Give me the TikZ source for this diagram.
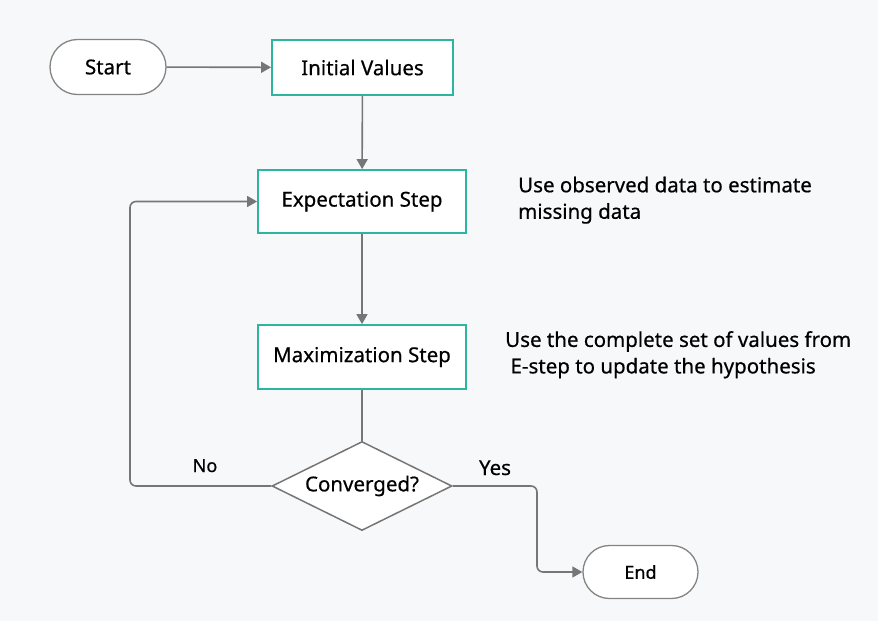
\documentclass[tikz,border=0pt]{standalone}
\usepackage{fontspec}
\setmainfont{Noto Sans}[FakeBold=0.5]
\usetikzlibrary{arrows.meta,shapes.geometric,shapes.misc}
\definecolor{teal}{HTML}{2DB59F}
\definecolor{conn}{HTML}{767676}
\definecolor{bg}{HTML}{F7F8F9}
\begin{document}
\begin{tikzpicture}[x=1pt,y=-1pt,
  font=\fontsize{20.5}{26.5}\selectfont,
  small/.style={font=\fontsize{18}{22}\selectfont},
  terminal/.style={rounded rectangle, draw=conn!90, line width=1.3pt, fill=white,
    minimum width=116pt, minimum height=55pt, inner sep=0pt},
  process/.style={rectangle, draw=teal, line width=1.8pt, fill=white,
    minimum height=60pt, inner sep=0pt},
  decision/.style={diamond, draw=conn, line width=1.5pt, fill=white, aspect=2,
    minimum width=180pt, minimum height=89pt, inner sep=0pt},
  link/.style={draw=conn, line width=1.6pt, rounded corners=6pt,
    -{Triangle[length=10pt,width=11pt]}},
  plain/.style={draw=conn, line width=1.6pt, rounded corners=6pt},
  note/.style={align=left, anchor=north west, inner sep=0pt}
]
\useasboundingbox[fill=bg] (0,0) rectangle (878,621);

\node[terminal] (start) at (108,67) {Start};
\node[process, minimum width=181pt, minimum height=55pt] (init) at (362.5,67.5) {Initial Values};
\node[process, minimum width=208pt, minimum height=63pt] (estep) at (362,201.5) {Expectation Step};
\node[process, minimum width=208pt, minimum height=64pt] (mstep) at (362,357) {Maximization Step};
\node[decision] (conv) at (362,486) {Converged?};
\node[terminal, small, minimum width=115pt, minimum height=53pt] (end) at (640.5,572) {End};

\coordinate (noturn) at (130,486);
\coordinate (yesturn) at (537,486);

\draw[link] (start) -- (init);
\draw[link] (init) -- (estep);
\draw[link] (estep) -- (mstep);
\draw[plain] (mstep) -- (conv);
\draw[link] (conv.west) -- (noturn) |- (estep.west);
\draw[link] (conv.east) -- (yesturn) |- (end.west);

\node[small, anchor=base] (nolab) at (205,472) {No};
\node[anchor=base] (yeslab) at (495,475) {Yes};

\node[note] (enote) at (518,176.5) {Use observed data to estimate\\missing data};
\node[note] (mnote) at (505,331) {Use the complete set of values from\\\ E-step to update the hypothesis};
\end{tikzpicture}
\end{document}
